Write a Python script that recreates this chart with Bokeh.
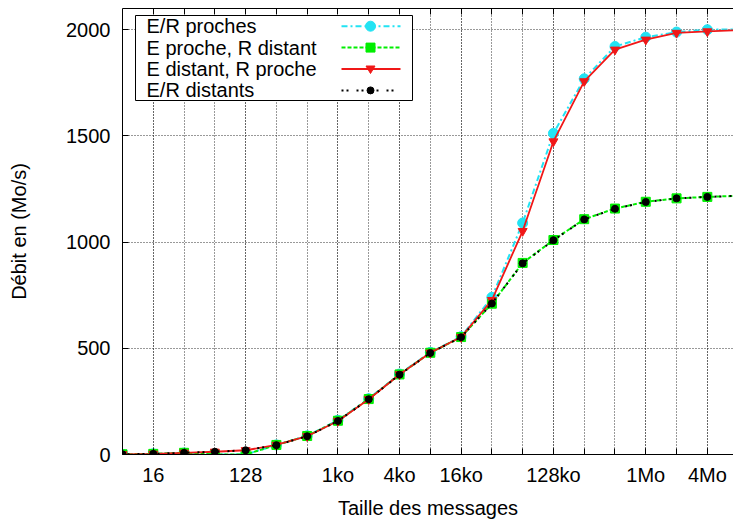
from bokeh.plotting import figure
from bokeh.models import (FixedTicker, LogAxis, Label, Arrow, BoxAnnotation,
                          PolyAnnotation, Range1d, ColumnDataSource)
from bokeh.embed import file_html
from bokeh.resources import INLINE

# ---- data (message size in bytes, throughput in Mo/s) ----
sizes = [8, 16, 32, 64, 128, 256, 512, 1024, 2048, 4096, 8192, 16384,
         32768, 65536, 131072, 262144, 524288, 1048576, 2097152, 4194304, 8388608]
er_proches = [1, 3, 7, 0, 0, 45, 88, 161, 263, 379, 481, 555,
              740, 1090, 1512, 1769, 1921, 1965, 1989, 2000, 2002]
e_proche_r_distant = [1, 3, 8, 0, 0, 45, 87, 159, 261, 377, 479, 553,
                      710, 902, 1010, 1108, 1158, 1190, 1206, 1213, 1218]
e_distant_r_proche = [1, 3, 8, 13, 20, 45, 86, 158, 260, 377, 479, 553,
                      727, 1052, 1474, 1757, 1906, 1953, 1985, 1992, 1998]
er_distants = [1, 3, 8, 13, 20, 44, 86, 158, 260, 376, 478, 552,
               711, 900, 1009, 1107, 1157, 1189, 1206, 1213, 1218]

series_names = ["E/R proches", "E proche, R distant",
                "E distant, R proche", "E/R distants"]

x_labelled_ticks = [16, 128, 1024, 4096, 16384, 131072, 1048576, 4194304]
x_tick_labels = ["16", "128", "1ko", "4ko", "16ko", "128ko", "1Mo", "4Mo"]
x_all_ticks = [16, 32, 64, 128, 256, 512, 1024, 2048, 4096, 8192, 16384,
               32768, 65536, 131072, 262144, 524288, 1048576, 2097152, 4194304]
y_tick_values = [0, 500, 1000, 1500, 2000]

FONT = "Liberation Sans"
FS = "20px"
COLORS = ["#22e3f3", "#00ee00", "#f01818", "#000000"]
DASHES = ["6 3 2 3", "4 2", "solid", "2 3 2 8"]

src = ColumnDataSource(dict(x=sizes, a=er_proches, b=e_proche_r_distant,
                            c=e_distant_r_proche, d=er_distants))

p = figure(width=733, height=523, x_axis_type="log",
           x_range=Range1d(8, 2 ** 22.85), y_range=Range1d(0, 2100),
           output_backend="svg", toolbar_location=None,
           min_border_left=122, min_border_right=0, min_border_top=8,
           min_border_bottom=69,
           x_axis_label="Taille des messages", y_axis_label="Débit en (Mo/s)")
p.outline_line_color = None

xa = p.xaxis[0]
ya = p.yaxis[0]
xa.ticker = FixedTicker(ticks=x_labelled_ticks, minor_ticks=x_all_ticks)
xa.major_label_overrides = dict(zip(x_labelled_ticks, x_tick_labels))
ya.ticker = FixedTicker(ticks=y_tick_values)

for ax in (xa, ya):
    ax.major_tick_in = 6
    ax.major_tick_out = 0
    ax.minor_tick_in = 6
    ax.minor_tick_out = 0
    ax.minor_tick_line_color = "black"
    ax.axis_line_color = "black"
    ax.major_tick_line_color = "black"
    ax.major_label_text_font = FONT
    ax.major_label_text_font_size = FS
    ax.major_label_text_color = "black"
    ax.axis_label_text_font = FONT
    ax.axis_label_text_font_size = FS
    ax.axis_label_text_font_style = "normal"
    ax.axis_label_text_color = "black"
ya.minor_tick_line_color = None

xa.major_label_standoff = 9
xa.axis_label_standoff = 8
ya.major_label_standoff = 12
ya.axis_label_standoff = 33

# mirror ticks on the top border (no labels)
top = LogAxis(ticker=FixedTicker(ticks=[], minor_ticks=x_all_ticks),
              minor_tick_in=6, minor_tick_out=0, major_tick_in=6, major_tick_out=0,
              minor_tick_line_color="black", axis_line_color="black",
              major_label_standoff=0)
p.add_layout(top, "above")

for g in (p.xgrid[0], p.ygrid[0]):
    g.grid_line_color = "#333333"
    g.grid_line_dash = "1 2"
    g.grid_line_width = 1
p.xgrid[0].minor_grid_line_color = "#333333"
p.xgrid[0].minor_grid_line_dash = "1 2"

# ---- series ----
p.line("x", "a", source=src, line_color=COLORS[0], line_width=2, line_dash=DASHES[0])
p.scatter("x", "a", source=src, marker="circle", size=10, fill_color=COLORS[0], line_color=COLORS[0])
p.line("x", "b", source=src, line_color=COLORS[1], line_width=2, line_dash=DASHES[1])
p.scatter("x", "b", source=src, marker="square", size=9, fill_color=COLORS[1], line_color=COLORS[1])
p.line("x", "c", source=src, line_color=COLORS[2], line_width=1.8)
p.scatter("x", "c", source=src, marker="inverted_triangle", size=9, fill_color=COLORS[2], line_color=COLORS[2])
p.line("x", "d", source=src, line_color=COLORS[3], line_width=2, line_dash=DASHES[3])
p.scatter("x", "d", source=src, marker="circle", size=7, fill_color=COLORS[3], line_color=COLORS[3])

# ---- key box (gnuplot style: text left, sample right), screen units ----
SU = dict(left_units="screen", right_units="screen",
          bottom_units="screen", top_units="screen")
p.add_layout(BoxAnnotation(left=13, right=290, bottom=354, top=439,
                           fill_color="white", fill_alpha=1.0,
                           line_color="black", line_width=1, line_alpha=1.0, **SU))

row_top = 428.3
row_step = 21.4
s_x0, s_x1, s_xm = 219, 278, 248
for i, name in enumerate(series_names):
    yc = row_top - i * row_step
    p.add_layout(Label(x=24, y=yc, x_units="screen", y_units="screen",
                       text=name, text_font=FONT, text_font_size=FS,
                       text_baseline="middle", text_align="left", text_color="black"))
    p.add_layout(Arrow(x_start=s_x0, y_start=yc, x_end=s_x1, y_end=yc,
                       start_units="screen", end_units="screen", end=None,
                       line_color=COLORS[i], line_width=(1.8 if i == 2 else 2),
                       line_dash=DASHES[i]))
    if i == 0:
        r = 5
        p.add_layout(BoxAnnotation(left=s_xm - r, right=s_xm + r, bottom=yc - r, top=yc + r,
                                   border_radius=5, fill_color=COLORS[i], fill_alpha=1.0,
                                   line_color=COLORS[i], line_alpha=1.0, **SU))
    elif i == 1:
        r = 4.5
        p.add_layout(BoxAnnotation(left=s_xm - r, right=s_xm + r, bottom=yc - r, top=yc + r,
                                   fill_color=COLORS[i], fill_alpha=1.0,
                                   line_color=COLORS[i], line_alpha=1.0, **SU))
    elif i == 2:
        p.add_layout(PolyAnnotation(xs=[s_xm - 4.5, s_xm + 4.5, s_xm],
                                    ys=[yc + 3, yc + 3, yc - 4.5],
                                    xs_units="screen", ys_units="screen",
                                    fill_color=COLORS[i], fill_alpha=1.0,
                                    line_color=COLORS[i], line_alpha=1.0))
    else:
        r = 3.5
        p.add_layout(BoxAnnotation(left=s_xm - r, right=s_xm + r, bottom=yc - r, top=yc + r,
                                   border_radius=4, fill_color=COLORS[i], fill_alpha=1.0,
                                   line_color=COLORS[i], line_alpha=1.0, **SU))

open("out.html", "w").write(file_html(p, INLINE))
